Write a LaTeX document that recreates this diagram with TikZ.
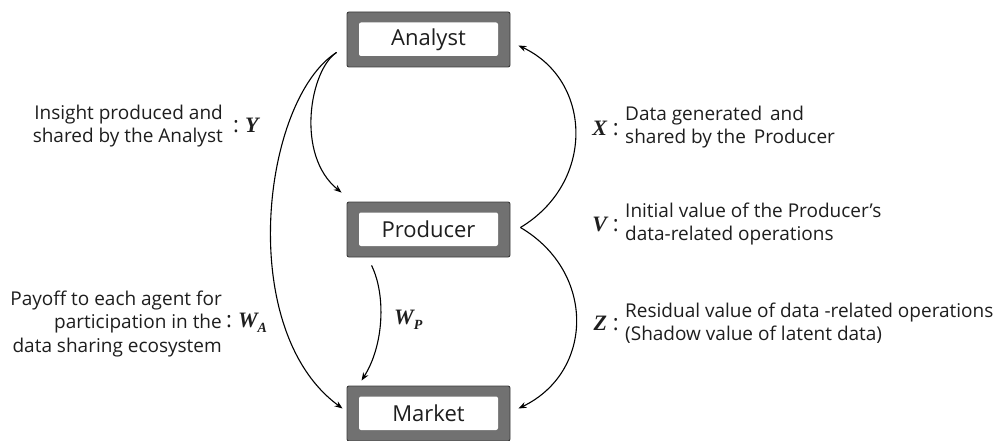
\documentclass[tikz,border=0pt]{standalone}
\usepackage{fontspec}
\setmainfont{Open Sans}
\newfontfamily\varfont{Liberation Serif}[BoldItalicFont={* Bold Italic}]
\usetikzlibrary{arrows.meta}

\definecolor{framegray}{HTML}{717171}
\definecolor{frameedge}{HTML}{3C3C3C}
\definecolor{inktext}{HTML}{1E1E1E}

\newcommand{\var}[1]{{\varfont\bfseries\itshape #1}}
\newcommand{\sub}[1]{\raisebox{-4.5pt}{\fontsize{14}{14}\selectfont\varfont\bfseries\itshape #1}}

\tikzset{
  agent/.style={
    draw=frameedge, line width=0.9pt, fill=framegray, rounded corners=2pt,
    minimum width=163pt, minimum height=55pt, inner sep=0pt,
    text=inktext, font=\fontsize{22}{24}\selectfont,
    path picture={\fill[white]
      ([shift={(12pt,-10.5pt)}]path picture bounding box.north west) rectangle
      ([shift={(-12pt,11pt)}]path picture bounding box.south east);}
  },
  flow/.style={line width=1.1pt, draw=black, -{Stealth[length=8pt,width=6pt]}},
  desc/.style={inner sep=0pt, text=inktext, font=\fontsize{19}{23.5}\selectfont},
  sym/.style={inner sep=0pt, text=inktext, font=\fontsize{22}{24}\selectfont},
}

\begin{document}
\begin{tikzpicture}[x=1pt, y=-1pt]
\useasboundingbox[fill=white] (0,0) rectangle (1001,441);

% agents
\node[agent] (A) at (428.5,39.5) {Analyst};
\node[agent] (P) at (428.5,229.5) {Producer};
\node[agent] (M) at (428.5,413.5) {Market};

% connector end points next to the boxes
\coordinate (aout) at ([shift={(-10,-15)}]A.south west);
\coordinate (pin)  at ([shift={(-5,-9)}]P.north west);
\coordinate (min)  at ([shift={(-4,-5)}]M.west);
\coordinate (pout) at ([shift={(25,8)}]P.south west);
\coordinate (mtop) at ([shift={(15,-5)}]M.north west);
\coordinate (pj)   at ([shift={(10,-2)}]P.east);
\coordinate (ain)  at ([shift={(8,6)}]A.east);
\coordinate (mr)   at ([shift={(8,-5)}]M.east);

% flows
\draw[flow] (aout) .. controls (310,70) and (295,155) .. (pin);
\draw[flow] (aout) .. controls (262,100) and (235,330) .. (min);
\draw[flow] (pout) .. controls (386,295) and (384,345) .. (mtop);
\draw[flow] (pj) .. controls (596,182) and (592,80) .. (ain);
\draw[flow] (pj) .. controls (596,272) and (594,372) .. (mr);

% left descriptions
\node[desc, anchor=east, align=right] (ytxt) at (223,126)
  {Insight produced and\\shared by the Analyst};
\node[sym, anchor=west] (ysym) at (233,125) {:\hspace{6pt}\var{Y}};
\node[desc, anchor=east, align=right] (watxt) at (222,324)
  {Payoff to each agent for\\participation in the\\data sharing ecosystem};
\node[sym, anchor=west] (wasym) at (226,323) {:\hspace{6pt}\var{W}\sub{A}};

% payoff of the producer
\node[sym, anchor=west] (wpsym) at (394,320) {\var{W}\sub{P}};

% right descriptions
\node[sym, anchor=east] (xsym) at (619,128) {\var{X}\hspace{6pt}:};
\node[desc, anchor=west, align=left] (xtxt) at (625,127)
  {Data generated\hspace{3pt} and\\shared by the\hspace{3pt} Producer};
\node[sym, anchor=east] (vsym) at (619,224) {\var{V}\hspace{6pt}:};
\node[desc, anchor=west, align=left] (vtxt) at (625,224)
  {Initial value of the Producer’s\\data-related operations};
\node[sym, anchor=east] (zsym) at (619,323) {\var{Z}\hspace{6pt}:};
\node[desc, anchor=west, align=left] (ztxt) at (625,323)
  {Residual value of data -related operations\\(Shadow value of latent data)};
\end{tikzpicture}
\end{document}
